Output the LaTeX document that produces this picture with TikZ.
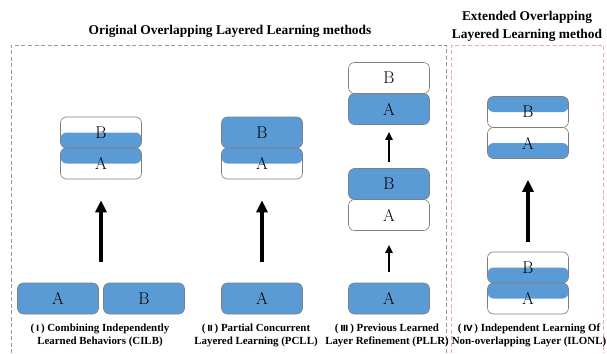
\documentclass[tikz,border=0pt]{standalone}
\usepackage{fontspec}
\usepackage{tikz}
\usetikzlibrary{arrows.meta,calc}
\newfontfamily\labelfont{Liberation Serif}
\newfontfamily\numfont{DejaVu Sans}
\definecolor{layerblue}{HTML}{5B9BD5}
\definecolor{edgegray}{HTML}{7F7F7F}
\definecolor{framered}{HTML}{F4A6A6}
\newcommand{\rnum}[1]{(\,{\numfont\fontsize{8.5}{8.5}\selectfont #1}\,)}

\tikzset{
  layer/.style={draw=edgegray, line width=0.6pt, rounded corners=6pt, minimum width=81pt,
    minimum height=31pt, inner sep=0pt, font=\fontsize{17}{17}\selectfont},
  bluelayer/.style={layer, fill=layerblue},
  whitelayer/.style={layer, fill=white},
  topblue/.style={layer, path picture={\fill[layerblue] (path picture bounding box.north west) rectangle (path picture bounding box.east);}},
  bottomblue/.style={layer, path picture={\fill[layerblue] (path picture bounding box.west) rectangle (path picture bounding box.south east);}},
  bigarrow/.style={line width=4pt, -{Triangle[length=12pt,width=11pt]}},
  smallarrow/.style={line width=2pt, -{Triangle[length=8pt,width=7pt]}},
  caption/.style={align=center, font=\labelfont\bfseries\fontsize{10.9}{13}\selectfont},
  title/.style={align=center, font=\labelfont\bfseries\fontsize{13.4}{18}\selectfont},
}

\begin{document}
\begin{tikzpicture}[x=1pt,y=-1pt]
      \useasboundingbox (0,0) rectangle (607,353);
      % frames
      \draw[gray!80, dashed, dash pattern=on 4pt off 2.5pt] (11,353) -- (11,45) -- (446,45) -- (446,353);
      \draw[framered, dashed, dash pattern=on 4pt off 2.5pt] (451,353) -- (451,45) -- (603,45) -- (603,353);
      \node[title] (origtitle) at (230,31) {Original Overlapping Layered Learning methods};
      \node[title] (exttitle) at (527,26) {Extended Overlapping\\Layered Learning method};
      % (I) CILB
      \node[bottomblue] (cilbB) at (101,132.5) {B};
      \node[topblue] (cilbA) at (101,163.5) {A};
      \node[bluelayer] (cilbX) at (58,298.5) {A};
      \node[bluelayer] (cilbY) at (144,298.5) {B};
      \draw[bigarrow, shorten <=21pt, shorten >=21pt] ($(cilbX.north)!.5!(cilbY.north)$) -- (cilbA.south);
      \node[caption] (cilbtext) at (100,335) {\rnum{Ⅰ} Combining Independently\\Learned Behaviors (CILB)};
      % (II) PCLL
      \node[bluelayer] (pcllB) at (262,132.5) {B};
      \node[topblue] (pcllA) at (262,163.5) {A};
      \node[bluelayer] (pcllX) at (262,298.5) {A};
      \draw[bigarrow, shorten <=21pt, shorten >=21pt] (pcllX.north) -- (pcllA.south);
      \node[caption] (pclltext) at (256,335) {\rnum{Ⅱ} Partial Concurrent\\Layered Learning (PCLL)};
      % (III) PLLR
      \node[whitelayer] (pllrB2) at (389,78) {B};
      \node[bluelayer] (pllrA2) at (389,109) {A};
      \node[bluelayer] (pllrB1) at (389,184) {B};
      \node[whitelayer] (pllrA1) at (389,215) {A};
      \node[bluelayer] (pllrA0) at (389,298.5) {A};
      \draw[smallarrow, shorten <=11pt, shorten >=14pt] (pllrA0.north) -- (pllrA1.south);
      \draw[smallarrow, shorten <=6pt, shorten >=7pt] (pllrB1.north) -- (pllrA2.south);
      \node[caption] (pllrtext) at (387,335) {\rnum{Ⅲ} Previous Learned\\Layer Refinement (PLLR)};
      % (IV) ILONL
      \node[topblue] (ilonlB2) at (528,112) {B};
      \node[bottomblue] (ilonlA2) at (528,143) {A};
      \node[bottomblue] (ilonlB1) at (528,267.5) {B};
      \node[topblue] (ilonlA1) at (528,298.5) {A};
      \draw[bigarrow, shorten <=10pt, shorten >=21pt] (ilonlB1.north) -- (ilonlA2.south);
      \node[caption] (ilonltext) at (529,335) {\rnum{Ⅳ} Independent Learning Of\\Non-overlapping Layer (ILONL)};
\end{tikzpicture}
\end{document}
